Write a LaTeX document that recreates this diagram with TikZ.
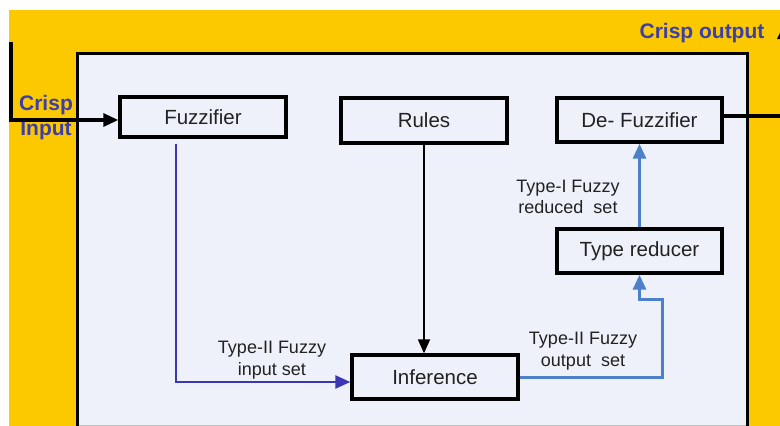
\documentclass[tikz,border=0pt]{standalone}
\usepackage{fontspec}
\setmainfont{Liberation Sans}
\usetikzlibrary{arrows.meta}
\definecolor{bgyellow}{HTML}{FCC800}
\definecolor{panel}{HTML}{EEF1FA}
\definecolor{dblue}{HTML}{3B37B2}
\definecolor{lblue}{HTML}{4D7FCB}
\definecolor{lblcol}{HTML}{3D3FA8}
\definecolor{txt}{HTML}{222222}
\tikzset{
  blockbox/.style={draw=black, line width=3.4pt, fill=panel, inner sep=0pt,
    font=\fontsize{20.5}{24}\selectfont, text=txt},
  lbl/.style={align=center, font=\fontsize{18}{21.5}\selectfont, text=txt, inner sep=0pt},
  crisp/.style={align=center, font=\bfseries\fontsize{21}{25}\selectfont, text=lblcol, inner sep=0pt},
  tip/.style={-{Triangle[length=15pt,width=13pt]}},
}
\begin{document}
\begin{tikzpicture}[x=1pt,y=-1pt]
\useasboundingbox (0,0) rectangle (780,426);
\begin{scope}
\clip (0,0) rectangle (780,426);
\fill[white] (0,0) rectangle (780,426);
\fill[bgyellow] (9,10) rectangle (790,430);
% panel
\fill[panel] (77,53) rectangle (747,430);
\draw[line width=3pt] (77,430) -- (77,53) -- (747,53) -- (747,430);
\draw[gray!50, line width=1pt] (78.5,425) -- (745.5,425);

% blocks
\node[blockbox, minimum width=166pt, minimum height=40pt] (fuzz) at (203,117) {Fuzzifier};
\node[blockbox, minimum width=166pt, minimum height=45pt] (rules) at (424,120.5) {Rules};
\node[blockbox, minimum width=165pt, minimum height=44pt] (df) at (639.5,120) {De- Fuzzifier};
\node[blockbox, minimum width=165pt, minimum height=44pt] (tr) at (639.5,251) {Type reducer};
\node[blockbox, minimum width=166pt, minimum height=44pt] (inf) at (435,377) {Inference};

% labels
\node[crisp] (cinl) at (46,118) {Crisp\\Input};
\node[crisp] (coutl) at (702,33) {Crisp output};
\node[lbl] (l1) at (272,360) {Type-II Fuzzy\\input set};
\node[lbl] (l2) at (583,351) {Type-II Fuzzy\\output\ \ set};
\node[lbl] (l3) at (568,197) {Type-I Fuzzy\\reduced\ \ set};

% connectors
\coordinate (cin) at (11,42);
\draw[tip, line width=3.2pt] (cin) |- ([yshift=-3pt]fuzz.west);
\draw[tip, dblue, line width=2.4pt] ([xshift=-27pt,yshift=-5pt]fuzz.south) |- ([yshift=-5pt]inf.west);
\draw[-{Triangle[length=14pt,width=12pt]}, black, line width=1.8pt] (rules.south) -- (rules.south |- inf.north);
\coordinate (bend) at (662,299);
\draw[tip, lblue, line width=3pt] (inf.east) -| (bend) -| (tr.south);
\draw[tip, lblue, line width=3pt] (tr.north) -- (df.south);
\coordinate (cout1) at (784,116);
\coordinate (cout2) at (784,24);
\draw[line width=3.2pt] ([yshift=4pt]df.east) -- (cout1);
\draw[tip, line width=3.2pt] (cout1) -- (cout2);
\end{scope}
\end{tikzpicture}
\end{document}
